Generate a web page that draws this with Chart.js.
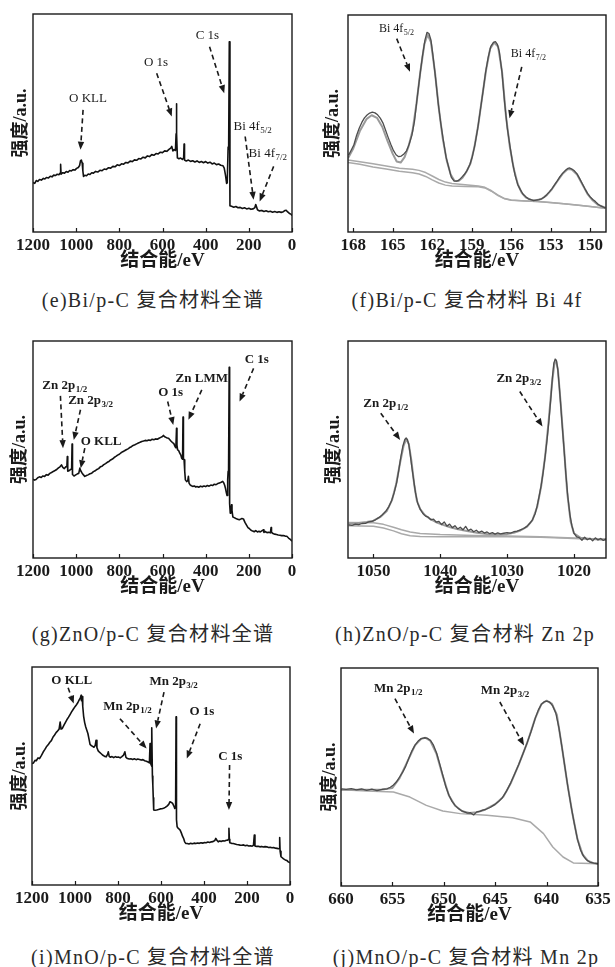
<!DOCTYPE html>
<html lang="zh">
<head>
<meta charset="UTF-8">
<title>XPS spectra of Bi/p-C, ZnO/p-C and MnO/p-C</title>
<script src="https://cdn.jsdelivr.net/npm/chart.js"></script>
<style>
  body { margin: 0; background: #fff; }
  #page { position: relative; width: 615px; height: 967px; }
  canvas { position: absolute; }
  .cap {
    position: absolute;
    font-family: 'Liberation Serif', 'Noto Sans CJK SC', serif;
    font-size: 20px;
    letter-spacing: 1.3px;
    color: #2a2a2a;
    white-space: nowrap;
    transform: translate(-50%, -50%);
  }
</style>
</head>
<body>
<div id="page">
  <canvas id="chartE" width="300" height="272" style="left:0;top:0"></canvas>
  <canvas id="chartF" width="315" height="272" style="left:300px;top:0"></canvas>
  <canvas id="chartG" width="300" height="273" style="left:0;top:325px"></canvas>
  <canvas id="chartH" width="315" height="273" style="left:300px;top:325px"></canvas>
  <canvas id="chartI" width="300" height="275" style="left:0;top:650px"></canvas>
  <canvas id="chartJ" width="315" height="276" style="left:300px;top:650px"></canvas>

  <div class="cap" style="left:153px;top:298px">(e)Bi/p-C 复合材料全谱</div>
  <div class="cap" style="left:467px;top:298px">(f)Bi/p-C 复合材料 Bi 4f</div>
  <div class="cap" style="left:153px;top:632px">(g)ZnO/p-C 复合材料全谱</div>
  <div class="cap" style="left:465px;top:632px">(h)ZnO/p-C 复合材料 Zn 2p</div>
  <div class="cap" style="left:153px;top:955px">(i)MnO/p-C 复合材料全谱</div>
  <div class="cap" style="left:466px;top:955px">(j)MnO/p-C 复合材料 Mn 2p</div>
</div>

<script>
// tick labels
const surveyTicks = [1200, 1000, 800, 600, 400, 200, 0];
const biTicks = [168, 165, 162, 159, 156, 153, 150];
const znTicks = [1050, 1040, 1030, 1020];
const mnTicks = [660, 655, 650, 645, 640, 635];

// (e) Bi/p-C survey: [binding energy eV, intensity a.u.]
const eSurvey = [
  [1200,22.7],[1192,22.3],[1185,23.6],[1178,23.2],[1170,24.1],[1161,23.8],[1152,24.6],[1145,24.3],
  [1138,25.0],[1128,24.8],[1120,25.6],[1112,25.3],[1104,26.1],[1096,25.9],[1088,26.5],[1080,26.3],
  [1074,27.0],[1072,31.0],[1070,26.5],[1062,27.2],[1054,27.0],[1046,27.7],[1038,27.4],[1030,28.2],
  [1022,28.0],[1014,28.6],[1006,28.4],[998,29.2],[990,29.6],[984,30.5],[980,32.6],[976,33.0],
  [972,31.5],[969,28.0],[966,25.5],[960,26.0],[952,25.8],[944,26.6],[936,26.4],[928,27.2],
  [920,27.0],[910,27.8],[900,27.5],[890,28.3],[880,28.1],[870,28.9],[860,28.7],[850,29.5],
  [840,29.3],[830,30.1],[820,29.9],[810,30.8],[800,30.5],[790,31.3],[780,31.1],[770,31.9],
  [760,31.7],[750,32.5],[740,32.3],[730,33.1],[720,32.9],[710,33.7],[700,33.5],[690,34.3],
  [680,34.0],[670,34.9],[660,34.6],[650,35.5],[640,35.2],[630,36.0],[620,35.8],[610,36.6],
  [600,36.4],[590,37.2],[580,37.0],[570,37.9],[562,38.5],[557,39.3],[552,37.2],[546,37.8],
  [540,37.4],[537,45.0],[535.5,58.8],[534,45.0],[531,34.0],[524,33.6],[516,33.9],[508,33.3],
  [502,34.0],[500,40.3],[498,33.0],[490,32.6],[480,33.0],[470,32.4],[460,32.7],[450,32.1],
  [440,32.6],[430,31.9],[420,32.3],[410,31.8],[400,32.3],[390,31.6],[380,32.0],[370,31.2],
  [360,31.6],[350,30.9],[340,31.2],[330,30.6],[320,30.4],[314,29.3],[308,26.0],[303,22.3],
  [300,22.5],[296,39.0],[293.5,38.0],[290.5,87.3],[287.5,12.0],[280,11.8],[270,11.4],[260,11.7],
  [250,11.1],[240,11.3],[230,10.8],[220,11.1],[210,10.6],[200,10.9],[190,10.4],[180,10.6],
  [172,11.2],[168,12.6],[164,11.5],[160,10.2],[152,9.7],[140,9.9],[130,9.4],[120,9.7],
  [110,9.3],[100,9.5],[90,9.1],[80,9.4],[70,9.0],[60,9.3],[50,9.0],[40,9.3],
  [32,9.9],[27,10.0],[20,9.2],[12,8.5],[5,8.2],[0,7.5]
];

// (f) Bi 4f high resolution
const fRaw = [
  [168.35,35.5],[168.15,37.8],[167.95,40.2],[167.75,44.5],[167.55,47.8],[167.35,50.5],[167.15,52.6],
  [166.95,53.9],[166.75,54.8],[166.55,55.2],[166.35,54.9],[166.15,54.0],[165.95,52.5],[165.75,50.3],
  [165.55,47.0],[165.35,43.6],[165.15,40.4],[164.95,37.6],[164.75,35.6],[164.55,34.7],[164.35,35.0],
  [164.15,36.0],[163.95,37.4],[163.75,40.5],[163.55,44.5],[163.35,51.0],[163.15,61.5],[162.95,71.5],
  [162.75,80.8],[162.55,88.5],[162.40,92.0],[162.25,91.5],[162.10,88.5],[161.95,81.5],[161.75,71.0],
  [161.55,59.5],[161.35,50.0],[161.15,42.0],[160.95,34.5],[160.75,29.8],[160.55,25.2],[160.35,23.6],
  [160.15,23.4],[159.95,24.0],[159.75,25.3],[159.55,26.6],[159.35,28.4],[159.15,31.0],[158.95,34.8],
  [158.75,40.5],[158.55,47.5],[158.35,56.0],[158.15,64.5],[157.95,73.5],[157.75,80.5],[157.55,85.5],
  [157.35,87.4],[157.20,87.7],[157.05,86.5],[156.90,83.0],[156.70,73.5],[156.50,59.5],[156.30,48.0],
  [156.10,39.8],[155.90,32.0],[155.70,26.0],[155.50,21.8],[155.30,19.4],[155.10,17.4],[154.90,16.3],
  [154.70,15.3],[154.50,14.9],[154.30,14.5],[154.10,14.7],[153.90,14.9],[153.70,15.3],[153.50,16.0],
  [153.30,17.2],[153.10,18.5],[152.90,20.0],[152.70,21.8],[152.50,23.6],[152.30,25.5],[152.10,27.0],
  [151.90,28.3],[151.70,29.3],[151.55,29.5],[151.40,29.0],[151.20,28.2],[151.00,26.8],[150.80,24.6],
  [150.60,22.2],[150.40,19.9],[150.20,17.8],[150.00,16.2],[149.80,15.0],[149.60,14.0],[149.40,12.8],
  [149.20,12.0],[149.00,11.5],[148.85,11.0]
];
const fFit = [
  [168.4,34.0],[168.0,38.5],[167.5,46.5],[167.0,52.0],[166.6,53.8],[166.2,52.6],[165.8,48.5],
  [165.4,42.0],[165.0,36.0],[164.7,32.5],[164.4,32.0],[164.1,34.5],[163.8,39.5],[163.5,46.5],
  [163.2,59.0],[162.9,74.0],[162.6,86.5],[162.35,91.0],[162.1,87.5],[161.8,74.0],[161.5,57.0],
  [161.2,43.0],[160.9,33.0],[160.6,26.5],[160.3,23.5],[160.0,23.5],[159.7,25.0],[159.4,27.8],
  [159.1,31.5],[158.8,39.0],[158.5,49.5],[158.2,62.5],[157.9,75.0],[157.6,84.5],[157.3,87.3],
  [157.0,85.5],[156.7,74.0],[156.4,53.5],[156.1,39.0],[155.8,29.0],[155.5,22.0],[155.2,18.0],
  [154.9,16.0],[154.5,14.8],[154.1,14.6],[153.7,15.2],[153.3,17.0],[152.9,19.8],[152.5,23.4],
  [152.1,26.8],[151.7,29.0],[151.4,28.8],[151.0,26.5],[150.6,22.0],[150.2,17.5],[149.8,14.5],
  [149.4,12.5],[148.85,11.2]
];
const fBg1 = [
  [168.4,33.2],[167.5,32.4],[166.5,31.4],[165.5,30.4],[164.5,29.4],[163.5,28.9],[163.0,28.4],
  [162.5,27.4],[162.0,25.8],[161.5,24.2],[161.0,23.0],[160.5,22.4],[159.5,21.8],[158.5,21.2],
  [158.0,20.6],[157.5,19.0],[157.0,17.0],[156.5,15.4],[156.0,14.7],[155.0,14.3],[154.0,14.0],
  [153.0,13.6],[152.0,13.0],[151.0,12.4],[150.0,11.8],[148.85,11.0]
];
const fBg2 = [
  [168.4,32.0],[167.5,31.2],[166.5,30.0],[165.5,29.0],[164.5,28.0],[163.5,27.3],[163.0,26.7],
  [162.5,25.6],[162.0,24.0],[161.5,22.6],[161.0,21.6],[160.5,21.2],[159.5,21.0],[158.5,20.8],
  [158.0,20.3],[157.5,18.8],[157.0,16.8],[156.5,15.3],[156.0,14.6],[154.0,14.0],[152.0,13.0],
  [150.0,11.8],[148.85,11.0]
];

// (g) ZnO/p-C survey
const gSurvey = [
  [1200,36.3],[1193,35.9],[1186,36.2],[1178,37.0],[1170,37.4],[1162,37.1],[1154,37.8],[1146,37.6],
  [1138,38.4],[1130,38.2],[1122,39.0],[1114,39.4],[1106,39.9],[1098,40.3],[1090,40.8],[1082,41.5],
  [1075,42.0],[1068,42.9],[1062,41.8],[1055,41.2],[1048,42.0],[1043,42.2],[1041,46.8],[1039,40.0],
  [1032,40.3],[1026,40.8],[1021,41.0],[1019,52.5],[1017,38.5],[1010,37.8],[1002,38.3],[994,38.8],
  [988,39.0],[983,41.4],[979,40.2],[973,39.2],[966,38.3],[960,37.6],[952,38.0],[945,38.3],
  [936,38.8],[928,39.1],[920,39.8],[912,40.2],[904,40.8],[896,41.2],[888,42.0],[880,42.3],
  [872,43.0],[864,43.5],[856,44.1],[848,44.5],[840,45.2],[832,45.6],[824,46.3],[816,46.8],
  [808,47.4],[800,47.8],[792,48.5],[784,49.0],[776,49.4],[768,49.9],[760,50.3],[752,50.9],
  [744,51.3],[736,51.9],[728,52.2],[720,52.6],[712,53.0],[704,53.3],[696,53.7],[688,53.9],
  [680,54.2],[672,54.0],[664,54.4],[656,54.2],[648,54.7],[640,54.5],[632,54.9],[624,54.7],
  [616,55.2],[608,55.6],[600,56.0],[596,56.5],[590,55.9],[584,55.6],[578,55.3],[572,55.2],
  [566,54.5],[560,53.8],[554,53.2],[548,52.8],[542,51.4],[538,50.8],[535,59.8],[533,52.0],
  [530,49.8],[525,49.5],[520,48.3],[515,47.4],[511,46.0],[507,45.5],[505,64.9],[503,46.0],
  [500,45.2],[497,40.0],[494,36.0],[488,35.2],[483,35.6],[480,37.6],[477,34.5],[472,33.7],
  [466,33.3],[460,33.0],[452,33.2],[446,32.7],[440,32.9],[432,32.6],[424,33.1],[416,32.8],
  [408,33.2],[400,32.9],[392,33.4],[384,33.1],[376,33.6],[368,33.4],[360,34.0],[352,33.8],
  [344,34.3],[336,34.6],[328,34.9],[321,35.3],[316,34.6],[312,33.5],[308,32.0],[304,30.0],
  [301,28.8],[298,36.0],[296,39.9],[294,38.5],[291,87.9],[289,25.0],[286,20.7],[283,21.5],
  [280,24.5],[278,22.0],[274,18.9],[268,18.6],[260,18.2],[252,17.9],[244,17.6],[238,17.9],
  [232,18.2],[225,18.0],[218,16.4],[210,15.0],[204,14.0],[198,13.6],[190,12.8],[182,12.4],
  [175,12.1],[168,12.6],[160,12.0],[153,12.3],[147,12.0],[140,12.5],[133,13.0],[130,11.8],
  [124,12.2],[116,11.7],[108,11.9],[100,11.6],[97,14.0],[95,11.8],[88,11.3],[80,11.0],
  [72,10.8],[64,10.6],[56,10.5],[48,10.3],[40,10.4],[32,10.1],[24,10.0],[16,9.2],
  [8,8.6],[0,7.7]
];

// (h) Zn 2p high resolution
const hRaw = [
  [1053.7,15.3],[1053.2,15.0],[1052.7,15.6],[1052.2,15.4],[1051.7,15.9],[1051.2,16.0],[1050.7,16.6],
  [1050.2,16.9],[1049.7,17.6],[1049.2,18.6],[1048.7,19.8],[1048.2,21.4],[1047.7,23.6],[1047.3,26.3],
  [1046.9,30.0],[1046.5,35.0],[1046.2,40.5],[1045.9,46.5],[1045.6,51.5],[1045.3,54.6],[1045.1,55.3],
  [1044.9,54.5],[1044.7,52.2],[1044.5,48.0],[1044.3,43.0],[1044.0,36.5],[1043.7,30.0],[1043.4,25.5],
  [1043.0,22.5],[1042.6,20.5],[1042.2,19.3],[1041.8,18.8],[1041.4,17.6],[1041.0,17.9],[1040.6,16.5],
  [1040.2,16.9],[1039.8,15.4],[1039.4,16.6],[1039.0,14.7],[1038.6,15.6],[1038.2,14.0],[1037.8,14.9],
  [1037.4,13.4],[1037.0,14.2],[1036.6,13.0],[1036.2,14.6],[1035.8,12.6],[1035.4,13.3],[1035.0,12.1],
  [1034.6,12.8],[1034.2,11.8],[1033.8,12.4],[1033.4,11.5],[1033.0,12.0],[1032.6,11.2],[1032.2,11.7],
  [1031.8,11.0],[1031.4,11.6],[1031.0,11.1],[1030.5,11.4],[1030.0,11.7],[1029.5,11.5],[1029.0,12.1],
  [1028.5,12.4],[1028.0,13.0],[1027.5,13.6],[1027.0,14.7],[1026.6,16.0],[1026.2,17.6],[1025.8,20.4],
  [1025.5,24.0],[1025.2,28.5],[1024.9,33.5],[1024.6,39.5],[1024.3,46.8],[1024.0,55.0],[1023.7,64.5],
  [1023.4,75.5],[1023.2,84.0],[1023.0,89.8],[1022.8,91.7],[1022.6,90.8],[1022.4,86.5],[1022.2,79.5],
  [1022.0,71.5],[1021.8,63.0],[1021.5,51.0],[1021.2,38.5],[1020.9,28.0],[1020.6,20.0],[1020.3,14.8],
  [1020.0,11.5],[1019.6,9.7],[1019.2,9.4],[1018.8,8.2],[1018.4,9.6],[1018.0,8.4],[1017.6,9.1],
  [1017.2,7.9],[1016.8,9.3],[1016.4,8.3],[1016.0,9.0],[1015.6,8.1],[1015.2,8.9]
];
const hFit = [
  [1053.7,15.8],[1052.5,16.0],[1051.0,16.6],[1050.0,17.2],[1049.0,18.8],[1048.0,21.6],[1047.2,26.8],
  [1046.6,34.0],[1046.0,44.0],[1045.5,51.5],[1045.1,54.8],[1044.7,52.5],[1044.3,44.5],[1043.9,34.0],
  [1043.5,26.5],[1043.0,22.5],[1042.3,19.8],[1041.5,18.0],[1040.5,16.3],[1039.5,15.2],[1038.5,14.2],
  [1037.5,13.4],[1036.0,12.4],[1034.5,11.6],[1033.0,11.1],[1031.5,10.8],[1030.0,11.0],[1029.0,11.6],
  [1028.0,12.7],[1027.0,14.5],[1026.2,17.5],[1025.5,23.5],[1024.9,33.0],[1024.3,47.0],[1023.8,62.5],
  [1023.3,80.0],[1022.9,90.0],[1022.7,91.2],[1022.4,87.0],[1022.0,72.0],[1021.5,51.5],[1021.0,30.0],
  [1020.5,17.0],[1020.0,11.4],[1019.0,9.3],[1017.5,8.8],[1015.2,8.6]
];
const hBg1 = [
  [1053.7,16.4],[1050.0,16.2],[1048.5,15.5],[1047.0,14.2],[1045.8,13.0],[1044.5,12.0],[1043.0,11.3],
  [1040.0,10.8],[1035.0,10.4],[1030.0,10.1],[1025.0,9.8],[1020.0,9.2],[1015.2,8.4]
];
const hBg2 = [
  [1053.7,14.9],[1050.0,14.6],[1048.5,13.8],[1047.0,12.5],[1045.8,11.2],[1044.5,10.3],[1043.0,9.9],
  [1040.0,9.8],[1035.0,9.8],[1030.0,9.8],[1025.0,9.6],[1020.0,9.0],[1015.2,8.3]
];

// (i) MnO/p-C survey
const iSurvey = [
  [1200,55.7],[1193,56.0],[1186,57.2],[1180,57.0],[1172,58.3],[1165,58.0],[1156,59.5],[1148,61.0],
  [1140,62.2],[1133,63.4],[1125,64.3],[1117,65.5],[1110,66.2],[1102,67.9],[1095,68.8],[1088,69.9],
  [1080,70.8],[1074,71.5],[1069,74.8],[1065,71.5],[1059,71.8],[1052,73.2],[1045,74.5],[1038,75.8],
  [1030,77.0],[1023,78.2],[1016,79.4],[1008,80.6],[1000,81.8],[994,82.6],[987,83.6],[980,85.0],
  [975,85.8],[972,87.0],[970,84.5],[967,86.5],[964,82.0],[960,77.5],[955,74.5],[950,72.5],
  [945,71.0],[940,69.5],[935,67.0],[930,64.5],[925,64.0],[918,63.6],[912,63.2],[906,64.0],
  [902,66.4],[898,63.0],[892,61.5],[885,60.8],[878,60.2],[870,59.5],[862,59.0],[855,58.8],
  [848,60.0],[845,61.1],[841,59.0],[835,58.6],[828,58.9],[820,58.4],[812,58.9],[806,58.6],
  [798,58.7],[790,58.3],[782,58.9],[774,59.6],[768,61.1],[763,58.5],[756,58.0],[748,57.8],
  [740,57.9],[732,57.6],[724,57.9],[716,57.5],[708,57.8],[700,57.6],[692,57.3],[684,57.5],
  [676,57.0],[668,56.8],[660,56.4],[654,56.0],[651,64.9],[649,56.0],[646,55.2],[644,54.5],
  [642,72.1],[640,50.0],[638,46.0],[636,40.0],[634,34.4],[628,34.3],[620,34.4],[612,34.6],
  [604,34.9],[596,35.0],[588,35.2],[580,35.6],[572,36.2],[564,37.0],[558,38.2],[552,37.9],
  [546,37.4],[540,36.2],[536,35.1],[532,36.0],[530,77.1],[528,30.0],[525,26.7],[520,26.0],
  [515,25.6],[511,25.2],[505,23.8],[500,22.4],[495,21.4],[490,19.8],[485,19.1],[478,19.0],
  [470,18.8],[462,19.1],[454,18.9],[446,19.2],[438,19.0],[430,19.3],[422,19.1],[414,19.4],
  [406,19.2],[398,19.5],[390,19.4],[382,19.7],[374,19.5],[366,19.8],[358,19.9],[350,20.4],
  [345,21.4],[340,20.5],[334,19.8],[328,20.2],[320,20.0],[312,20.3],[304,20.2],[296,20.5],
  [290,20.6],[286,21.0],[284,26.0],[282,21.0],[280,19.4],[272,19.1],[264,19.0],[256,18.8],
  [248,18.6],[240,18.5],[232,18.3],[224,18.2],[216,18.4],[208,18.0],[200,18.2],[192,17.9],
  [184,18.0],[176,17.8],[170,18.2],[166,22.9],[163,17.9],[156,17.7],[148,17.8],[140,17.5],
  [132,17.7],[124,17.4],[116,17.6],[108,17.5],[100,17.2],[92,17.3],[84,17.1],[76,17.2],
  [68,16.9],[60,16.8],[54,16.6],[50,16.8],[48,21.8],[46,15.5],[42,13.0],[36,12.5],
  [30,12.0],[22,11.5],[14,11.2],[8,10.6],[0,10.2]
];

// (j) Mn 2p high resolution
const jRaw = [
  [659.95,44.6],[659.5,44.3],[659.0,44.7],[658.5,44.1],[658.0,44.5],[657.5,43.9],[657.0,44.4],
  [656.5,43.8],[656.0,44.3],[655.5,44.6],[655.2,45.3],[654.9,46.3],[654.6,47.8],[654.3,50.0],
  [654.0,52.2],[653.7,55.0],[653.4,58.6],[653.1,62.0],[652.8,64.6],[652.5,66.5],[652.2,67.6],
  [651.9,68.0],[651.6,67.8],[651.3,66.8],[651.0,64.6],[650.7,61.0],[650.4,56.0],[650.1,50.8],
  [649.8,45.5],[649.5,41.6],[649.2,38.8],[648.9,37.0],[648.6,35.6],[648.3,34.6],[648.0,34.0],
  [647.7,33.4],[647.4,33.6],[647.1,32.6],[646.8,34.0],[646.5,34.2],[646.2,34.8],[645.9,35.2],
  [645.5,36.0],[645.1,37.2],[644.7,38.6],[644.3,40.5],[643.9,43.5],[643.5,47.2],[643.1,51.5],
  [642.7,55.8],[642.3,60.7],[641.9,65.6],[641.5,71.0],[641.1,77.0],[640.8,80.8],[640.5,83.4],
  [640.2,84.6],[640.0,84.8],[639.7,84.3],[639.4,82.6],[639.1,79.2],[638.8,72.5],[638.5,63.5],
  [638.2,54.0],[637.9,44.5],[637.6,36.2],[637.3,28.5],[637.0,21.5],[636.7,16.5],[636.4,13.6],
  [636.1,11.9],[635.8,11.0],[635.4,10.5],[635.0,10.2]
];
const jFit = [
  [660,44.2],[658,44.2],[656,44.3],[655,45.0],[654.3,49.5],[653.5,57.5],[652.8,64.5],[652.2,67.5],
  [651.8,68.0],[651.3,66.5],[650.7,60.5],[650.1,50.5],[649.5,41.5],[648.9,36.8],[648.2,34.3],
  [647.5,33.5],[646.8,33.8],[646.0,35.0],[645.0,37.5],[644.2,41.0],[643.5,47.0],[642.7,55.8],
  [641.9,65.5],[641.1,77.0],[640.5,83.5],[640.0,85.0],[639.5,83.7],[639.0,78.5],[638.5,63.5],
  [638.0,47.5],[637.5,33.5],[637.0,21.5],[636.5,14.5],[636.0,11.6],[635.5,10.6],[635,10.2]
];
const jBg = [
  [659.94,44.2],[657.5,43.6],[654.9,43.1],[653.3,40.8],[651.7,37.0],[650.1,34.4],[648.4,33.2],
  [645.8,32.4],[643.3,31.3],[641.6,29.4],[640.3,24.0],[639.4,17.9],[638.4,13.3],[637.4,10.6],
  [635.0,10.2]
];

// peak labels and dashed arrows, in data units (eV, a.u.)
const eLabels = [
  {text: 'C 1s', x: 392, y: 89.9, center: true},
  {text: 'O 1s', x: 630, y: 77.7, center: true},
  {text: 'O KLL', x: 945, y: 61.4, center: true},
  {text: 'Bi 4f', sub: '5/2', x: 271, y: 48.4},
  {text: 'Bi 4f', sub: '7/2', x: 201, y: 35.9}
];
const eArrows = [[382, 85, 314, 63.7], [627, 72.8, 557, 53], [968, 56, 980, 37.7], [217, 43.8, 178, 14.8], [85, 30.1, 150, 14]];

const fLabels = [
  {text: 'Bi 4f', sub: '5/2', x: 166.05, y: 93.7},
  {text: 'Bi 4f', sub: '7/2', x: 156.03, y: 82.2}
];
const fArrows = [[164.7, 89.1, 163.69, 73.8], [155.2, 76.1, 156.13, 52.4]];

const gLabels = [
  {text: 'C 1s', x: 163, y: 91.6, center: true},
  {text: 'Zn LMM', x: 418, y: 82.8, center: true},
  {text: 'O 1s', x: 562, y: 76.2, center: true},
  {text: 'Zn 2p', sub: '1/2', x: 1157, y: 79.3},
  {text: 'Zn 2p', sub: '3/2', x: 1037, y: 72.5},
  {text: 'O KLL', x: 979, y: 53.4}
];
const gArrows = [[178, 87.4, 243, 72.1], [418, 77.5, 480, 63.7], [576, 72.1, 550, 61.3], [1073, 74.7, 1061, 50.6], [980, 68.3, 1011, 54.4], [960, 50.6, 979, 41.4]];

const hLabels = [
  {text: 'Zn 2p', sub: '3/2', x: 1031.6, y: 82.8},
  {text: 'Zn 2p', sub: '1/2', x: 1051.5, y: 71.3}
];
const hArrows = [[1028.1, 76.7, 1024.7, 60.6], [1048.9, 66.7, 1046.0, 54.4]];

const iLabels = [
  {text: 'O KLL', x: 1110, y: 93.9},
  {text: 'Mn 2p', sub: '3/2', x: 654, y: 93.1},
  {text: 'Mn 2p', sub: '1/2', x: 869, y: 81.7},
  {text: 'O 1s', x: 410, y: 79.4, center: true},
  {text: 'C 1s', x: 278, y: 58.8, center: true}
];
const iArrows = [[1032, 90.5, 1006, 83.2], [586, 88.5, 623, 71.8], [791, 76.3, 667, 62.6], [418, 74, 480, 58], [281, 55, 284, 34.4]];

const jLabels = [
  {text: 'Mn 2p', sub: '1/2', x: 656.8, y: 90.5},
  {text: 'Mn 2p', sub: '3/2', x: 646.4, y: 89.8}
];
const jArrows = [[654.75, 85.9, 652.9, 69.9], [644.55, 84.4, 642.2, 64.5]];

const FONT = "'Liberation Serif', 'Noto Sans CJK SC', serif";
const INK = '#1a1a1a';

// frame, inward tick marks, dashed arrows and peak labels
const peakLabels = {
  id: 'peakLabels',
  afterDatasetsDraw(chart, args, opts) {
    const {ctx, chartArea: a, scales: {x, y}} = chart;
    ctx.save();
    ctx.strokeStyle = INK;
    ctx.lineWidth = 1.4;
    ctx.strokeRect(a.left, a.top, a.right - a.left, a.bottom - a.top);

    // small ticks pointing into the plot
    ctx.lineWidth = 1.2;
    ctx.beginPath();
    x.ticks.forEach(t => {
      const px = Math.round(x.getPixelForValue(t.value)) + 0.5;
      ctx.moveTo(px, a.bottom);
      ctx.lineTo(px, a.bottom - 4);
    });
    ctx.stroke();

    ctx.fillStyle = INK;
    opts.arrows.forEach(ar => {
      const x1 = x.getPixelForValue(ar[0]), y1 = y.getPixelForValue(ar[1]);
      const x2 = x.getPixelForValue(ar[2]), y2 = y.getPixelForValue(ar[3]);
      const ang = Math.atan2(y2 - y1, x2 - x1);
      const c = Math.cos(ang), s = Math.sin(ang);
      const hl = 8, hw = 3.2;
      ctx.setLineDash([5, 3.5]);
      ctx.lineWidth = 1.6;
      ctx.beginPath();
      ctx.moveTo(x1, y1);
      ctx.lineTo(x2 - hl * c, y2 - hl * s);
      ctx.stroke();
      ctx.setLineDash([]);
      ctx.beginPath();
      ctx.moveTo(x2, y2);
      ctx.lineTo(x2 - hl * c + hw * s, y2 - hl * s - hw * c);
      ctx.lineTo(x2 - hl * c - hw * s, y2 - hl * s + hw * c);
      ctx.closePath();
      ctx.fill();
    });

    ctx.textBaseline = 'middle';
    ctx.textAlign = 'left';
    opts.labels.forEach(l => {
      const px = x.getPixelForValue(l.x), py = y.getPixelForValue(l.y);
      const main = `${opts.weight} ${opts.size}px ${FONT}`;
      const small = `${opts.weight} ${opts.size - 4}px ${FONT}`;
      ctx.font = main;
      const w1 = ctx.measureText(l.text).width;
      ctx.font = small;
      const w2 = l.sub ? ctx.measureText(l.sub).width : 0;
      const left = l.center ? px - (w1 + w2) / 2 : px;
      ctx.font = main;
      ctx.fillText(l.text, left, py);
      if (l.sub) {
        ctx.font = small;
        ctx.fillText(l.sub, left + w1 + 0.5, py + 4);
      }
    });
    ctx.restore();
  }
};

function series(points, color, width) {
  return {
    data: points.map(p => ({x: p[0], y: p[1]})),
    borderColor: color,
    borderWidth: width,
    pointRadius: 0,
    tension: 0,
    borderJoinStyle: 'round',
    fill: false
  };
}

function makeChart(id, p) {
  const canvas = document.getElementById(id);
  return new Chart(canvas, {
    type: 'line',
    data: {datasets: p.datasets},
    options: {
      responsive: false,
      animation: false,
      events: [],
      layout: {padding: {top: p.top, right: p.right, left: 0, bottom: 0}},
      plugins: {
        legend: {display: false},
        tooltip: {enabled: false},
        peakLabels: {labels: p.labels, arrows: p.arrows, size: p.labelSize, weight: p.labelWeight}
      },
      scales: {
        x: {
          type: 'linear',
          reverse: true,
          min: p.min,
          max: p.max,
          grid: {display: false, drawTicks: false},
          border: {display: false},
          afterBuildTicks: s => { s.ticks = p.ticks.map(v => ({value: v})); },
          afterFit: s => { s.height = 40; },
          ticks: {
            autoSkip: false,
            maxRotation: 0,
            padding: 3,
            color: INK,
            font: {family: FONT, size: 17, weight: 'bold'},
            callback: v => String(v)
          },
          title: {
            display: true,
            text: '结合能/eV',
            color: INK,
            font: {family: FONT, size: 19, weight: 'bold', lineHeight: 1},
            padding: {top: 0, bottom: 1}
          }
        },
        y: {
          min: 0,
          max: 100,
          grid: {display: false, drawTicks: false},
          border: {display: false},
          ticks: {display: false},
          afterFit: s => { s.width = p.left; },
          title: {
            display: true,
            text: '强度/a.u.',
            color: INK,
            font: {family: FONT, size: 18, weight: 'bold', lineHeight: 1},
            padding: {top: p.yTitle - 9, bottom: 0}
          }
        }
      }
    },
    plugins: [peakLabels]
  });
}

const RAW = '#4d4d4d', FIT = '#9a9a9a', BG = '#a9a9a9';

makeChart('chartE', {
  left: 33, top: 14, right: 8, yTitle: 21, min: 0, max: 1200, ticks: surveyTicks,
  labels: eLabels, arrows: eArrows, labelSize: 13, labelWeight: 'normal',
  datasets: [series(eSurvey, '#111', 1.6)]
});
makeChart('chartF', {
  left: 48, top: 15, right: 9, yTitle: 33.5, min: 148.8, max: 168.4, ticks: biTicks,
  labels: fLabels, arrows: fArrows, labelSize: 12, labelWeight: 'normal',
  datasets: [series(fRaw, RAW, 1.3), series(fFit, FIT, 2), series(fBg1, BG, 1.5), series(fBg2, BG, 1.5)]
});
makeChart('chartG', {
  left: 33, top: 16, right: 8, yTitle: 20, min: 0, max: 1200, ticks: surveyTicks,
  labels: gLabels, arrows: gArrows, labelSize: 13, labelWeight: 'bold',
  datasets: [series(gSurvey, '#111', 1.6)]
});
makeChart('chartH', {
  left: 48, top: 16, right: 9, yTitle: 34, min: 1015.2, max: 1053.8, ticks: znTicks,
  labels: hLabels, arrows: hArrows, labelSize: 13, labelWeight: 'bold',
  datasets: [series(hRaw, RAW, 1.3), series(hFit, FIT, 2), series(hBg1, BG, 1.5), series(hBg2, BG, 1.5)]
});
makeChart('chartI', {
  left: 32, top: 17, right: 10, yTitle: 20, min: 0, max: 1200, ticks: surveyTicks,
  labels: iLabels, arrows: iArrows, labelSize: 13, labelWeight: 'bold',
  datasets: [series(iSurvey, '#111', 1.6)]
});
makeChart('chartJ', {
  left: 41, top: 18, right: 17, yTitle: 30, min: 635, max: 660, ticks: mnTicks,
  labels: jLabels, arrows: jArrows, labelSize: 13, labelWeight: 'bold',
  datasets: [series(jRaw, RAW, 1.3), series(jFit, FIT, 2), series(jBg, BG, 1.5)]
});
</script>
</body>
</html>
